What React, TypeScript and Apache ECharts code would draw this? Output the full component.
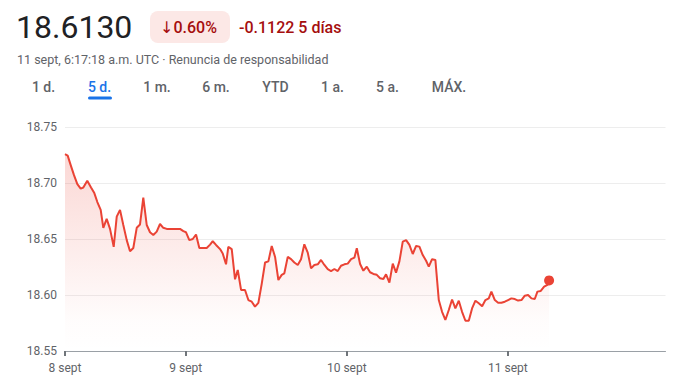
import React, { useEffect, useRef } from "react";
import * as echarts from "echarts";

// Hours elapsed since the first quote (8 sept), one quote roughly every 30 minutes
const hours = [
  0.0, 0.4, 0.85, 1.34, 1.84, 2.34, 2.73, 3.32, 3.88, 4.37, 4.82, 5.32, 5.71, 6.21, 6.71, 7.26, 7.71, 8.2, 8.69, 9.2,
  9.69, 10.18, 10.69, 11.18, 11.67, 12.18, 12.67, 13.16, 13.67, 14.16, 14.65, 15.16, 15.65, 16.14, 16.65, 17.14, 17.64,
  18.04, 18.53, 19.04, 19.53, 20.02, 20.62, 21.12, 21.62, 22.02, 22.51, 23.11, 23.51, 24.0, 24.34, 24.85, 25.34, 25.75,
  26.24, 26.83, 27.33, 27.83, 28.32, 28.82, 29.32, 29.82, 30.31, 30.81, 31.31, 31.8, 32.3, 32.69, 33.2, 33.69, 34.18,
  34.69, 35.18, 35.67, 36.18, 36.67, 37.16, 37.67, 38.16, 38.66, 39.16, 39.65, 40.15, 40.65, 41.14, 41.64, 42.14, 42.64,
  43.13, 43.49, 43.98, 44.47, 44.98, 45.47, 45.96, 46.47, 46.96, 47.45, 47.85, 48.35, 48.85, 49.34, 49.84, 50.34, 50.84,
  51.33, 51.83, 52.33, 52.82, 53.32, 53.82, 54.22, 54.71, 55.2, 55.71, 56.2, 56.69, 57.2, 57.69, 58.18, 58.69, 59.18,
  59.68, 60.18, 60.67, 61.17, 61.67, 62.17, 62.66, 63.16, 63.55, 64.06, 64.55, 65.04, 65.55, 66.04, 66.53, 67.04, 67.53,
  68.03, 68.53, 69.02, 69.52, 70.02, 70.41, 70.91, 71.41, 71.9, 72.15,
];

const values = [
  18.7257, 18.7244, 18.716, 18.707, 18.699, 18.695, 18.696, 18.702, 18.696, 18.691, 18.683, 18.676, 18.66, 18.668,
  18.659, 18.643, 18.67, 18.676, 18.6625, 18.649, 18.639, 18.642, 18.66, 18.663, 18.687, 18.6625, 18.656, 18.6536,
  18.6566, 18.6634, 18.66, 18.659, 18.659, 18.659, 18.659, 18.659, 18.657, 18.656, 18.649, 18.65, 18.654, 18.642,
  18.642, 18.642, 18.645, 18.648, 18.6447, 18.641, 18.637, 18.6274, 18.643, 18.641, 18.614, 18.6223, 18.6045, 18.6045,
  18.5955, 18.594, 18.5896, 18.593, 18.61, 18.629, 18.63, 18.6438, 18.634, 18.6134, 18.618, 18.6194, 18.634, 18.632,
  18.629, 18.6268, 18.632, 18.6453, 18.6378, 18.6238, 18.6268, 18.6274, 18.6313, 18.6268, 18.623, 18.6214, 18.6232,
  18.6214, 18.6261, 18.6274, 18.628, 18.632, 18.6333, 18.6417, 18.6277, 18.6217, 18.6253, 18.6203, 18.6188, 18.618,
  18.615, 18.6143, 18.6185, 18.611, 18.628, 18.62, 18.63, 18.6476, 18.649, 18.6447, 18.6366, 18.6438, 18.6432,
  18.6357, 18.6306, 18.6253, 18.632, 18.6313, 18.5955, 18.585, 18.5777, 18.5866, 18.596, 18.588, 18.5949, 18.585,
  18.577, 18.577, 18.588, 18.5949, 18.5926, 18.59, 18.5955, 18.597, 18.603, 18.5955, 18.5931, 18.5931, 18.594,
  18.5955, 18.597, 18.5964, 18.595, 18.5955, 18.5994, 18.6, 18.597, 18.5964, 18.603, 18.6036, 18.6074, 18.609, 18.613,
];

// Day ticks (hours since start) and their labels
const dayTicks = [0, 18, 42, 66];
const dayLabels = ["8 sept", "9 sept", "10 sept", "11 sept"];

const yTicks = [18.55, 18.6, 18.65, 18.7, 18.75];

const priceText = "18.6130";
const changePctText = "↓0.60%";
const changeAbsText = "-0.1122 5 días";
const subtitleText = "11 sept, 6:17:18 a.m. UTC · Renuncia de responsabilidad";
const tabs = ["1 d.", "5 d.", "1 m.", "6 m.", "YTD", "1 a.", "5 a.", "MÁX."];
const activeTab = "5 d.";

const FONT = 'Roboto, "Noto Sans", "DejaVu Sans", sans-serif';

export default function App() {
  const ref = useRef<HTMLDivElement>(null);

  useEffect(() => {
    if (!ref.current) return;
    const chart = echarts.init(ref.current, null, { renderer: "svg" });

    const tabCenters = [43.5, 99.5, 157, 216, 275.5, 332.5, 387.5, 449];
    const tabGraphics: any[] = tabs.map((t, i) => ({
      type: "text",
      x: tabCenters[i],
      y: 87,
      style: {
        text: t,
        fill: t === activeTab ? "#1a73e8" : "#5f6368",
        font: `500 14px ${FONT}`,
        align: "center",
        verticalAlign: "middle",
      },
    }));

    const data = hours.map((h, i) => [h, values[i]]);
    const last = data[data.length - 1];

    chart.setOption({
      animation: false,
      backgroundColor: "#ffffff",
      grid: { left: 65, right: 13.5, top: 127, bottom: 39, containLabel: false },
      xAxis: {
        type: "value",
        min: 0,
        max: 89.5,
        axisLine: { show: true, lineStyle: { color: "#9aa0a6", width: 1 } },
        axisTick: {
          show: true,
          customValues: dayTicks,
          length: 5,
          lineStyle: { color: "#70757a", width: 2 },
        },
        axisLabel: {
          show: true,
          customValues: dayTicks,
          margin: 11,
          color: "#5f6368",
          fontFamily: FONT,
          fontSize: 12,
          formatter: (v: number) => {
            const idx = dayTicks.findIndex((d) => Math.abs(d - v) < 1e-6);
            return idx >= 0 ? dayLabels[idx] : "";
          },
        },
        splitLine: { show: false },
      },
      yAxis: {
        type: "value",
        min: yTicks[0],
        max: yTicks[yTicks.length - 1],
        interval: 0.05,
        axisLine: { show: false },
        axisTick: { show: false },
        axisLabel: {
          margin: 8,
          color: "#5f6368",
          fontFamily: FONT,
          fontSize: 12,
          formatter: (v: number) => v.toFixed(2),
        },
        splitLine: { show: true, lineStyle: { color: "#ededed", width: 1 } },
      },
      series: [
        {
          type: "line",
          data,
          showSymbol: false,
          symbol: "none",
          lineStyle: { color: "#ea4335", width: 2 },
          areaStyle: {
            origin: "start",
            color: new echarts.graphic.LinearGradient(0, 0, 0, 1, [
              { offset: 0, color: "rgba(234,67,53,0.30)" },
              { offset: 0.85, color: "rgba(234,67,53,0.02)" },
              { offset: 1, color: "rgba(234,67,53,0)" },
            ]),
          },
          z: 2,
        },
        {
          type: "scatter",
          data: [last],
          symbol: "circle",
          symbolSize: 10,
          itemStyle: { color: "#ea4335", opacity: 1 },
          z: 3,
        },
      ],
      graphic: [
        {
          type: "text",
          x: 16,
          y: 27,
          style: {
            text: priceText,
            fill: "#202124",
            font: `400 32px ${FONT}`,
            verticalAlign: "middle",
          },
        },
        {
          type: "rect",
          shape: { x: 150, y: 11, width: 80, height: 32, r: 8 },
          style: { fill: "#fce8e6" },
        },
        {
          type: "text",
          x: 160,
          y: 27,
          style: {
            text: changePctText,
            fill: "#a50e0e",
            font: `500 16px ${FONT}`,
            verticalAlign: "middle",
          },
        },
        {
          type: "text",
          x: 239,
          y: 27,
          style: {
            text: changeAbsText,
            fill: "#a50e0e",
            font: `500 16px ${FONT}`,
            verticalAlign: "middle",
          },
        },
        {
          type: "text",
          x: 17,
          y: 59,
          style: {
            text: subtitleText,
            fill: "#5f6368",
            font: `400 12.5px ${FONT}`,
            verticalAlign: "middle",
          },
        },
        ...tabGraphics,
        {
          type: "rect",
          shape: { x: 88, y: 96.5, width: 24, height: 3, r: 1.5 },
          style: { fill: "#1a73e8" },
        },
      ],
    });

    return () => chart.dispose();
  }, []);

  return (
    <div
      ref={ref}
      style={{ position: "absolute", left: 0, top: 0, width: 679, height: 390 }}
    />
  );
}
